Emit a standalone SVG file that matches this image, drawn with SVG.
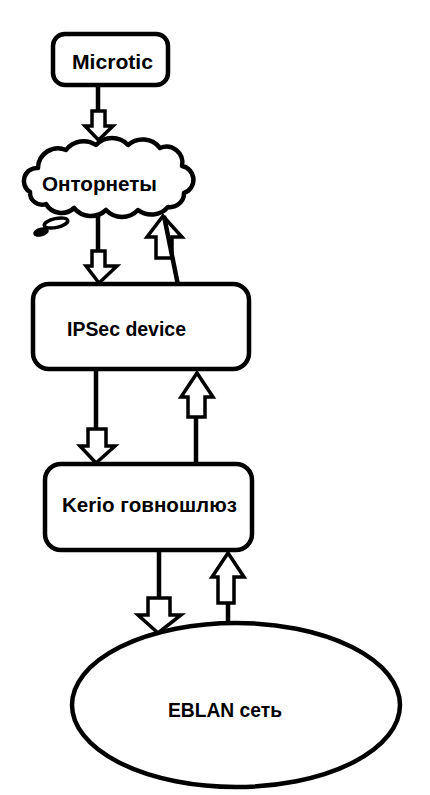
<svg xmlns="http://www.w3.org/2000/svg" width="430" height="795" viewBox="0 0 430 795">
<style>
.n{fill:#fff;stroke:#000;stroke-width:4.5;stroke-linejoin:round}
.t{font-family:"Liberation Sans",Arial,sans-serif;font-weight:bold;font-size:20px;fill:#000}
.c line{stroke:#000;stroke-width:4.5}
.c path{fill:#fff;stroke:#000;stroke-width:3.5;stroke-linejoin:miter}
</style>
<rect width="430" height="795" fill="#fff"/>
<g id="microtic">
  <rect class="n" x="53" y="34" width="115" height="51" rx="12"/>
  <text class="t" x="72" y="69" textLength="81" lengthAdjust="spacingAndGlyphs">Microtic</text>
</g>
<g id="internet">
  <path class="n" d="M30,192 A13,13 0 0 1 38,168 A20,20 0 0 1 66,150 A22,22 0 0 1 96,145 A22,22 0 0 1 128,145 A22,22 0 0 1 160,148 A16,16 0 0 1 182,166 A14,14 0 0 1 184,193 A14,14 0 0 1 168,207 A22,22 0 0 1 138,210 A22,22 0 0 1 106,210 A22,22 0 0 1 74,208 A18,18 0 0 1 46,204 A12,12 0 0 1 30,192 Z"/>
  <ellipse cx="56" cy="223" rx="12" ry="4.5" transform="rotate(-12 56 223)" fill="#fff" stroke="#000" stroke-width="3.5"/>
  <ellipse cx="41" cy="232" rx="7" ry="3.5" transform="rotate(-15 41 232)" fill="#000" stroke="#000" stroke-width="2"/>
  <text class="t" x="42" y="191" textLength="115" lengthAdjust="spacingAndGlyphs">Онторнеты</text>
</g>
<g id="ipsec">
  <rect class="n" x="33" y="284" width="216" height="85" rx="16"/>
  <text class="t" x="67" y="336" textLength="119" lengthAdjust="spacingAndGlyphs">IPSec device</text>
</g>
<g id="kerio">
  <rect class="n" x="45" y="464" width="207" height="86" rx="16"/>
  <text class="t" x="62" y="512" textLength="175" lengthAdjust="spacingAndGlyphs">Kerio говношлюз</text>
</g>
<g id="eblan">
  <ellipse class="n" cx="236" cy="705" rx="164" ry="82"/>
  <text class="t" x="168" y="717" textLength="114" lengthAdjust="spacingAndGlyphs">EBLAN сеть</text>
</g>
<g class="c" id="connectors">
  <line x1="98" y1="85" x2="98" y2="112"/>
  <path d="M92,111 H105 V126 H113 L98.5,140 L85,126 H92 Z"/>
  <line x1="98" y1="214" x2="98" y2="252"/>
  <path d="M92,251 H105 V266 H117 L99,283 L86,266 H92 Z"/>
  <path d="M156,258 V237 H147 L163,216 L182,237 H172 V258 Z"/>
  <line x1="164" y1="216" x2="178" y2="285"/>
  <line x1="96" y1="370" x2="96" y2="430"/>
  <path d="M88,429 H106 V446 H115 L96,463 L80,446 H88 Z"/>
  <line x1="196" y1="463" x2="196" y2="416"/>
  <path d="M188,417 V397 H181 L197,373 L213,397 H205 V417 Z"/>
  <line x1="159" y1="550" x2="159" y2="599"/>
  <path d="M148,598 H170 V615 H181 L158,633 L138,615 H148 Z"/>
  <line x1="228" y1="623" x2="228" y2="602"/>
  <path d="M218,603 V577 H212 L228,553 L244,577 H234 V603 Z"/>
</g>
</svg>
